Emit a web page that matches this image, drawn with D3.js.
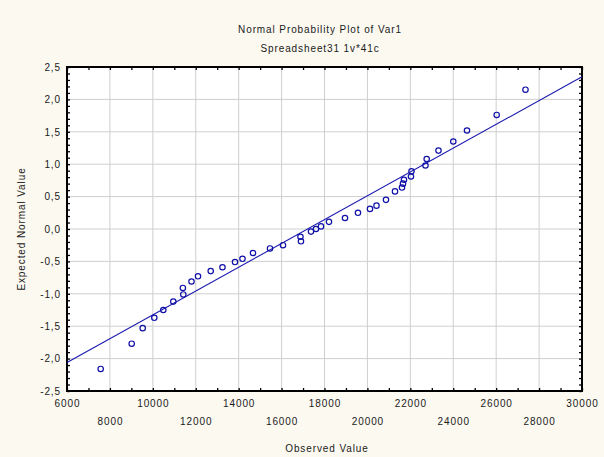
<!DOCTYPE html>
<html>
<head>
<meta charset="utf-8">
<script src="https://cdn.jsdelivr.net/npm/d3@7"></script>
<style>
    html, body { margin: 0; padding: 0; background: #fcf9f1; }
    svg { display: block; font-family: Arial, "Liberation Sans", sans-serif; }
    .lbl { fill: #1a1a1a; font-size: 10px; letter-spacing: 0.9px; }
</style>
</head>
<body>
<div id="chart"></div>
<script>
// values
const observed = [7570, 9015, 9528, 10068, 10488, 10954, 11420, 11400, 11802, 12105,
    12697, 13246, 13829, 14178, 14668, 15460, 16066, 16904, 16880, 17370,
    17603, 17836, 18209, 18955, 19560, 20120, 20423, 20865, 21285, 21611,
    21658, 21704, 22030, 22054, 22706, 22762, 23312, 24002, 24640, 26024, 27366];
const expected = [-2.16, -1.77, -1.53, -1.37, -1.25, -1.12, -1.01, -0.91, -0.81, -0.73,
    -0.65, -0.59, -0.51, -0.46, -0.37, -0.30, -0.25, -0.19, -0.12, -0.04,
    0.00, 0.04, 0.11, 0.17, 0.25, 0.31, 0.36, 0.45, 0.58, 0.64,
    0.70, 0.76, 0.81, 0.89, 0.98, 1.08, 1.21, 1.35, 1.52, 1.76, 2.15];
const fitX = [6000, 30000];
const fitY = [-2.06, 2.35];
const xLabelsRow1 = [6000, 10000, 14000, 18000, 22000, 26000, 30000];
const xLabelsRow2 = [8000, 12000, 16000, 20000, 24000, 28000];
const yTicks = [-2.5, -2.0, -1.5, -1.0, -0.5, 0.0, 0.5, 1.0, 1.5, 2.0, 2.5];

function createChart() {
    const width = 604;
    const height = 457;
    const margin = { top: 67, right: 22, bottom: 66, left: 67 };
    const w = width - margin.left - margin.right;
    const h = height - margin.top - margin.bottom;

    const svg = d3.select('#chart').append('svg')
        .attr('width', width)
        .attr('height', height);

    const x = d3.scaleLinear().domain([6000, 30000]).range([margin.left, margin.left + w]);
    const y = d3.scaleLinear().domain([-2.5, 2.5]).range([margin.top + h, margin.top]);

    const loc = d3.formatLocale({ decimal: ',', thousands: '', grouping: [3], currency: ['', ''], minus: '-' });
    const fmtY = loc.format('.1f');

    svg.append('rect')
        .attr('x', margin.left).attr('y', margin.top)
        .attr('width', w).attr('height', h)
        .attr('fill', '#fff');

    // grid
    const xGrid = d3.range(8000, 30000, 2000);
    svg.append('g')
        .selectAll('line').data(xGrid).enter().append('line')
        .attr('x1', d => x(d)).attr('x2', d => x(d))
        .attr('y1', margin.top).attr('y2', margin.top + h)
        .attr('stroke', '#cfcfcf').attr('stroke-width', 1);
    svg.append('g')
        .selectAll('line').data(yTicks.slice(1, -1)).enter().append('line')
        .attr('x1', margin.left).attr('x2', margin.left + w)
        .attr('y1', d => y(d)).attr('y2', d => y(d))
        .attr('stroke', '#cfcfcf').attr('stroke-width', 1);

    // inward ticks on all four sides
    const xMinor = d3.range(6000, 30001, 1000);
    const yMinor = d3.range(-25, 26).map(d => d / 10);
    const tickAxes = [
        d3.axisBottom(x).tickValues(xMinor).tickSize(-3).tickFormat(''),
        d3.axisTop(x).tickValues(xMinor).tickSize(-3).tickFormat(''),
        d3.axisLeft(y).tickValues(yMinor).tickSize(-3).tickFormat(''),
        d3.axisRight(y).tickValues(yMinor).tickSize(-3).tickFormat('')
    ];
    const shifts = [
        `translate(0,${margin.top + h})`, `translate(0,${margin.top})`,
        `translate(${margin.left},0)`, `translate(${margin.left + w},0)`
    ];
    tickAxes.forEach((ax, i) => {
        const g = svg.append('g').attr('transform', shifts[i]).call(ax);
        g.select('.domain').remove();
        g.selectAll('line').attr('stroke', '#000').attr('stroke-width', 1.3);
    });

    // frame
    svg.append('rect')
        .attr('x', margin.left).attr('y', margin.top)
        .attr('width', w).attr('height', h)
        .attr('fill', 'none').attr('stroke', '#000').attr('stroke-width', 2);

    // fitted line
    const fit = fitX.map((d, i) => [d, fitY[i]]);
    svg.append('path')
        .datum(fit)
        .attr('d', d3.line().x(d => x(d[0])).y(d => y(d[1])))
        .attr('fill', 'none')
        .attr('stroke', '#1c1cb0')
        .attr('stroke-width', 1.1);

    // points
    const pts = observed.map((d, i) => ({ obs: d, exp: expected[i] }));
    svg.append('g').selectAll('circle')
        .data(pts).enter().append('circle')
        .attr('cx', d => x(d.obs))
        .attr('cy', d => y(d.exp))
        .attr('r', 2.7)
        .attr('fill', 'none')
        .attr('stroke', '#1010a8')
        .attr('stroke-width', 1.2);

    // y labels
    const yAx = svg.append('g')
        .attr('transform', `translate(${margin.left},0)`)
        .call(d3.axisLeft(y).tickValues(yTicks).tickSize(0).tickPadding(6).tickFormat(fmtY));
    yAx.select('.domain').remove();
    yAx.selectAll('text').attr('class', 'lbl').attr('font-family', null).attr('font-size', null);

    // staggered x labels
    const row1 = svg.append('g')
        .attr('transform', `translate(0,${margin.top + h})`)
        .call(d3.axisBottom(x).tickValues(xLabelsRow1).tickSize(0).tickPadding(9).tickFormat(d3.format('d')));
    const row2 = svg.append('g')
        .attr('transform', `translate(0,${margin.top + h})`)
        .call(d3.axisBottom(x).tickValues(xLabelsRow2).tickSize(0).tickPadding(27).tickFormat(d3.format('d')));
    [row1, row2].forEach(g => {
        g.select('.domain').remove();
        g.selectAll('text').attr('class', 'lbl').attr('font-family', null).attr('font-size', null);
    });

    // titles
    svg.append('text').attr('class', 'lbl')
        .attr('x', 320).attr('y', 33)
        .attr('text-anchor', 'middle')
        .text('Normal Probability Plot of Var1');
    svg.append('text').attr('class', 'lbl')
        .attr('x', 320).attr('y', 52)
        .attr('text-anchor', 'middle')
        .text('Spreadsheet31 1v*41c');
    svg.append('text').attr('class', 'lbl')
        .attr('x', 327).attr('y', 452)
        .attr('text-anchor', 'middle')
        .text('Observed Value');
    svg.append('text').attr('class', 'lbl')
        .attr('transform', `translate(25,${margin.top + h / 2}) rotate(-90)`)
        .attr('text-anchor', 'middle')
        .text('Expected Normal Value');
}

createChart();
</script>
</body>
</html>
